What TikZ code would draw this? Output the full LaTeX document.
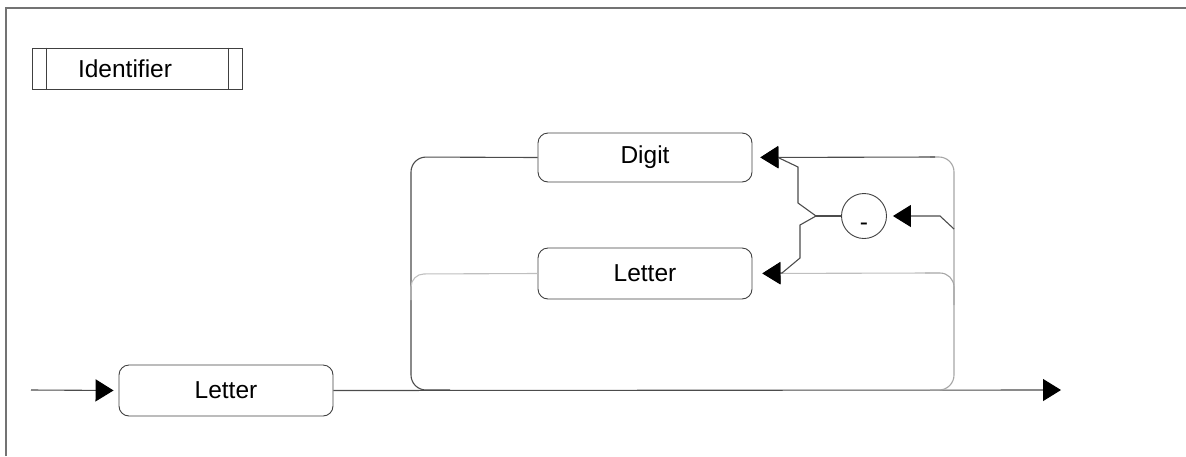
\documentclass[tikz,border=0pt]{standalone}
\usepackage{fontspec}
\setmainfont{Liberation Sans}
\usetikzlibrary{arrows.meta}
\begin{document}
\begin{tikzpicture}[x=1pt,y=-1pt,
  every node/.style={font=\fontsize{24.5}{28}\selectfont},
  rbox/.style={draw=black!75, line width=0.9pt, rounded corners=10pt, minimum width=214pt, minimum height=50pt, inner sep=0pt},
  wire/.style={draw=black!70, line width=1.1pt},
  lightwire/.style={draw=black!25, line width=1.1pt},
  midwire/.style={draw=black!35, line width=1.1pt},
  tip/.style={-{Triangle[length=18pt,width=22pt,color=black]}},
  framel/.style={draw=black!55, line width=1.2pt}
]
\useasboundingbox (0,0) rectangle (1186,456);
% frame
\draw[framel] (6,456) -- (6,8) -- (1186,8);
% title box
\node[draw=black!75, line width=0.9pt, minimum width=210pt, minimum height=41pt, inner sep=0pt] (title) at (137,68.5) {};
\node[inner sep=0pt] (titletext) at (125,69) {Identifier};
\draw[draw=black!75, line width=0.9pt] ([xshift=15pt]title.north west) -- ([xshift=15pt]title.south west);
\draw[draw=black!75, line width=0.9pt] ([xshift=-14pt]title.north east) -- ([xshift=-14pt]title.south east);
% nodes
\node[rbox, minimum height=51pt] (letterA) at (226,390.5) {Letter};
\node[rbox, minimum height=49pt] (digit) at (645,157.5) {Digit};
\node[rbox, minimum height=51pt] (letterB) at (645,273.5) {Letter};
\node[draw=black!75, line width=0.9pt, circle, minimum size=45pt, inner sep=0pt] (dash) at (864,216) {};
\node[inner sep=0pt] (dashtext) at (864,227) {-};
% coordinates
\coordinate (start) at (31,390);
\coordinate (finish) at (1061,390);
\coordinate (fork) at (816,216);
% main line
\draw[wire, tip, shorten >=5pt] (start) -- (letterA.west);
\draw[wire, tip] (letterA.east) -- (finish);
% left side of loop
\draw[wire, rounded corners=15pt] (digit.west) -- (411,157) -- (411,390) -- (450,390);
\draw[lightwire, rounded corners=13pt] (letterB.west) -- (411,274) -- (411,300);
% right side of loop
\draw[midwire, rounded corners=15pt] (930,390) -- (954,390) -- (954,157) -- (930,157);
\draw[wire, tip, shorten >=8pt] (935,157) -- (digit.east);
\draw[midwire, rounded corners=14pt] (954,305) -- (954,273) -- (925,273);
\draw[lightwire, tip, shorten >=10pt] (930,273) -- (letterB.east);
\draw[wire, tip, shorten >=6pt] (954,229) -- (940,216) -- (dash.east);
% branches from dash
\draw[wire] (dash.west) -- (fork);
\draw[wire, tip, shorten >=8pt] (fork) -- (798,203) -- (798,167) -- (777,157) -- (digit.east);
\draw[wire, tip, shorten >=10pt] (fork) -- (800,225) -- (800,258) -- (782,273) -- (letterB.east);
\end{tikzpicture}
\end{document}
